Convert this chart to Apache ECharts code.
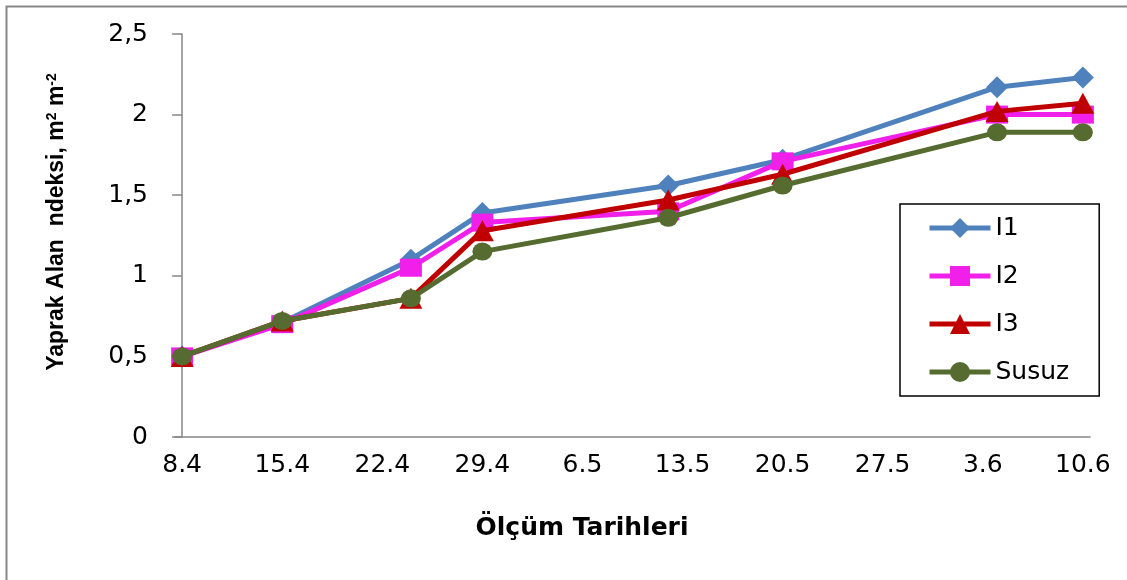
<!DOCTYPE html>
<html>
<head>
<meta charset="utf-8">
<script src="https://cdn.jsdelivr.net/npm/echarts@6/dist/echarts.min.js"></script>
<style>html,body{margin:0;padding:0;background:#fff}#c{width:1127px;height:580px}</style>
</head>
<body>
<div id="c"></div>
<script>
// Measurement dates (day.month) and axis tick labels
var measureDates = ['8.4', '15.4', '24.4', '29.4', '12.5', '20.5', '4.6', '10.6'];
var tickLabels = ['8.4', '15.4', '22.4', '29.4', '6.5', '13.5', '20.5', '27.5', '3.6', '10.6'];
var seriesNames = ['I1', 'I2', 'I3', 'Susuz'];
var I1 = [0.50, 0.71, 1.10, 1.39, 1.56, 1.72, 2.17, 2.23];
var I2 = [0.50, 0.70, 1.05, 1.33, 1.40, 1.71, 2.00, 2.00];
var I3 = [0.50, 0.72, 0.86, 1.28, 1.47, 1.63, 2.02, 2.07];
var Susuz = [0.50, 0.72, 0.86, 1.15, 1.36, 1.56, 1.89, 1.89];
var yTicks = ['0', '0,5', '1', '1,5', '2', '2,5'];

function dayOf(s) {
  var p = s.split('.');
  return (Date.UTC(2000, +p[1] - 1, +p[0]) - Date.UTC(2000, 3, 8)) / 864e5;
}
var tickDays = tickLabels.map(dayOf);
function pairs(vals) { return measureDates.map(function (d, i) { return [dayOf(d), vals[i]]; }); }

var styles = [
  { color: '#4F81BD', symbol: 'diamond', size: [22, 22] },
  { color: '#F01FEA', symbol: 'rect', size: [22, 18] },
  { color: '#C00000', symbol: 'triangle', size: [23, 21] },
  { color: '#556B2F', symbol: 'circle', size: [20, 18] }
];
var allVals = [I1, I2, I3, Susuz];
var txt = 'DejaVu Sans';

var chart = echarts.init(document.getElementById('c'), null, { renderer: 'canvas' });
chart.setOption({
  animation: false,
  backgroundColor: '#fff',
  textStyle: { fontFamily: txt },
  grid: { left: 175, right: 37, top: 34, bottom: 143, containLabel: false },
  xAxis: {
    type: 'value',
    min: -0.5,
    max: 63.5,
    axisLine: { show: true, lineStyle: { color: '#868686', width: 1.5 } },
    axisTick: { show: false },
    splitLine: { show: false },
    axisLabel: {
      customValues: tickDays,
      formatter: function (v) { var i = tickDays.indexOf(v); return i >= 0 ? tickLabels[i] : ''; },
      color: '#000', fontFamily: txt, fontSize: 25, margin: 16
    }
  },
  yAxis: {
    type: 'value',
    min: 0,
    max: 2.5,
    interval: 0.5,
    axisLine: { show: true, lineStyle: { color: '#868686', width: 1.5 } },
    axisTick: { show: true, inside: false, length: 10, lineStyle: { color: '#868686', width: 1.5 } },
    splitLine: { show: false },
    axisLabel: {
      formatter: function (v) { return yTicks[Math.round(v / 0.5)]; },
      color: '#000', fontFamily: txt, fontSize: 25, margin: 27
    }
  },
  legend: {
    orient: 'vertical',
    left: 900,
    top: 204,
    padding: [10, 30, 10, 27],
    itemGap: 20,
    itemWidth: 61,
    itemHeight: 25,
    borderColor: '#000',
    borderWidth: 1.5,
    lineStyle: { width: 5 },
    textStyle: { color: '#000', fontFamily: txt, fontSize: 25, lineHeight: 28 },
    data: seriesNames
  },
  series: seriesNames.map(function (n, i) {
    return {
      name: n,
      type: 'line',
      data: pairs(allVals[i]),
      symbol: styles[i].symbol,
      symbolSize: styles[i].size,
      showSymbol: true,
      lineStyle: { color: styles[i].color, width: 5 },
      itemStyle: { color: styles[i].color, borderWidth: 0 },
      z: 2 + i
    };
  }),
  graphic: [
    {
      type: 'rect', left: 4, top: 4, silent: true,
      shape: { x: 0, y: 0, width: 1200, height: 700 },
      style: { fill: 'none', stroke: '#888888', lineWidth: 2 }
    },
    {
      type: 'text', x: 57, y: 222, rotation: Math.PI / 2, silent: true,
      style: {
        text: 'Yaprak Alan  ndeksi, m{sup|2} m{sup|-2}',
        fontFamily: 'Liberation Sans', fontWeight: 'bold', fontSize: 23, fill: '#000',
        align: 'center', verticalAlign: 'middle',
        rich: { sup: { fontFamily: 'Liberation Sans', fontWeight: 'bold', fontSize: 14, verticalAlign: 'top', padding: [0, 0, 10, 0] } }
      }
    },
    {
      type: 'text', x: 582, y: 528, silent: true,
      style: {
        text: 'Ölçüm Tarihleri',
        fontFamily: txt, fontWeight: 'bold', fontSize: 25, fill: '#000',
        align: 'center', verticalAlign: 'middle'
      }
    }
  ]
});
</script>
</body>
</html>
